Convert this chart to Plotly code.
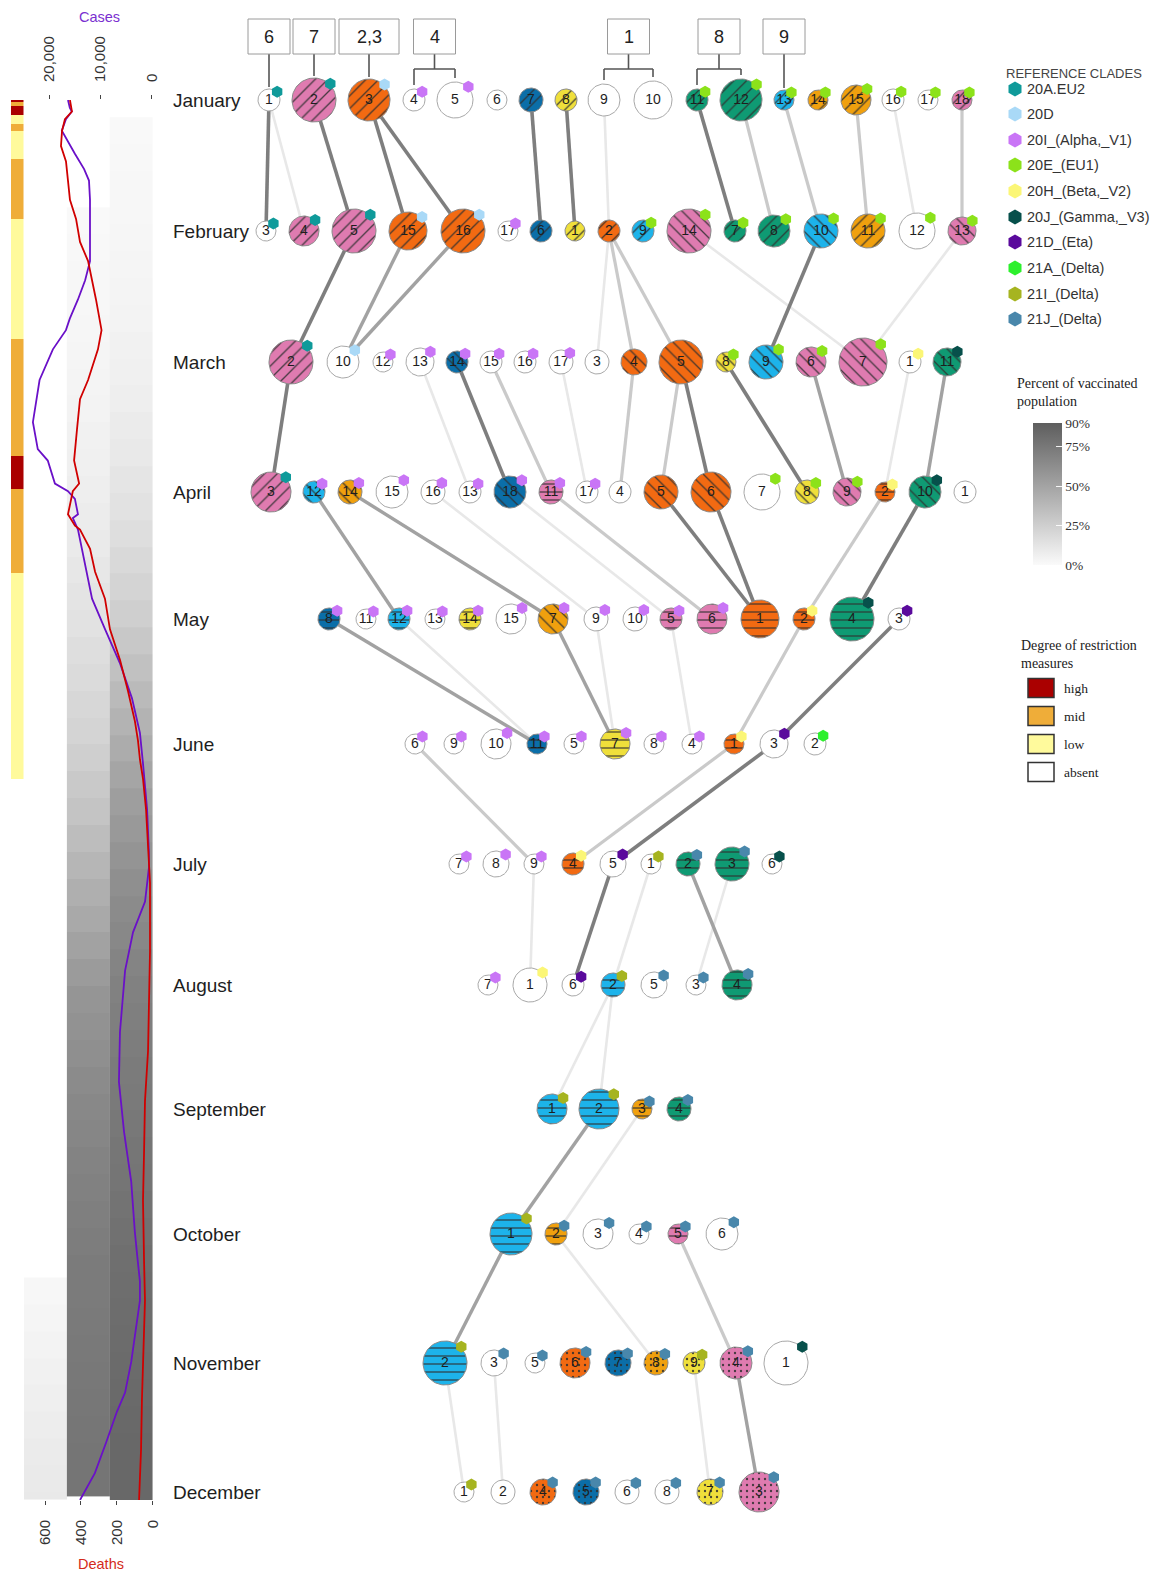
import numpy as np
import plotly.graph_objects as go

FIG_W, FIG_H = 1157, 1574
SANS = "Liberation Sans, Arial, sans-serif"
SERIF = "Liberation Serif, Times New Roman, serif"

# ---------------------------------------------------------------- data
MONTHS = ["January", "February", "March", "April", "May", "June", "July",
          "August", "September", "October", "November", "December"]

CLADE_NAMES = {
    "EU2": "20A.EU2", "20D": "20D", "ALP": "20I_(Alpha,_V1)", "EU1": "20E_(EU1)",
    "BET": "20H_(Beta,_V2)", "GAM": "20J_(Gamma,_V3)", "ETA": "21D_(Eta)",
    "A21": "21A_(Delta)", "I21": "21I_(Delta)", "J21": "21J_(Delta)",
}

# cluster identifiers of each month (left to right)
CLUSTERS = [
    ["1", "2", "3", "4", "5", "6", "7", "8", "9", "10", "11", "12", "13", "14", "15", "16", "17", "18"],
    ["3", "4", "5", "15", "16", "17", "6", "1", "2", "9", "14", "7", "8", "10", "11", "12", "13"],
    ["2", "10", "12", "13", "14", "15", "16", "17", "3", "4", "5", "8", "9", "6", "7", "1", "11"],
    ["3", "12", "14", "15", "16", "13", "18", "11", "17", "4", "5", "6", "7", "8", "9", "2", "10", "1"],
    ["8", "11", "12", "13", "14", "15", "7", "9", "10", "5", "6", "1", "2", "4", "3"],
    ["6", "9", "10", "11", "5", "7", "8", "4", "1", "3", "2"],
    ["7", "8", "9", "4", "5", "1", "2", "3", "6"],
    ["7", "1", "6", "2", "5", "3", "4"],
    ["1", "2", "3", "4"],
    ["1", "2", "3", "4", "5", "6"],
    ["2", "3", "5", "6", "7", "8", "9", "4", "1"],
    ["1", "2", "4", "5", "6", "8", "7", "3"],
]

# nearest reference clade of each cluster (None = no reference clade)
CLADES = [
    ["EU2", "EU2", "20D", "ALP", "ALP", None, None, None, None, None,
     "EU1", "EU1", "EU1", "EU1", "EU1", "EU1", "EU1", "EU1"],
    ["EU2", "EU2", "EU2", "20D", "20D", "ALP", None, None, None,
     "EU1", "EU1", "EU1", "EU1", "EU1", "EU1", "EU1", "EU1"],
    ["EU2", "20D", "ALP", "ALP", "ALP", "ALP", "ALP", "ALP", None, None, None,
     "EU1", "EU1", "EU1", "EU1", "BET", "GAM"],
    ["EU2", "ALP", "ALP", "ALP", "ALP", "ALP", "ALP", "ALP", "ALP", None, None, None,
     "EU1", "EU1", "EU1", "BET", "GAM", None],
    ["ALP", "ALP", "ALP", "ALP", "ALP", "ALP", "ALP", "ALP", "ALP", "ALP", "ALP",
     None, "BET", "GAM", "ETA"],
    ["ALP", "ALP", "ALP", "ALP", "ALP", "ALP", "ALP", "ALP", "BET", "ETA", "A21"],
    ["ALP", "ALP", "ALP", "BET", "ETA", "I21", "J21", "J21", "GAM"],
    ["ALP", "BET", "ETA", "I21", "J21", "J21", "J21"],
    ["I21", "I21", "J21", "J21"],
    ["I21", "J21", "J21", "J21", "J21", "J21"],
    ["I21", "J21", "J21", "J21", "J21", "J21", "I21", "J21", "GAM"],
    ["I21", None, "J21", "J21", "J21", "J21", "J21", "J21"],
]

# month-to-month links: (month index, source cluster, target cluster, strength 1..4)
LINKS = [
    (0, "1", "3", 4), (0, "1", "4", 1), (0, "2", "5", 4), (0, "3", "15", 4), (0, "3", "16", 4),
    (0, "7", "6", 4), (0, "8", "1", 4), (0, "9", "2", 1), (0, "11", "7", 4), (0, "12", "8", 2),
    (0, "13", "10", 2), (0, "15", "11", 2), (0, "16", "12", 1), (0, "18", "13", 2),
    (1, "5", "2", 4), (1, "15", "10", 3), (1, "16", "10", 3), (1, "2", "3", 1), (1, "2", "4", 2),
    (1, "2", "5", 2), (1, "14", "7", 1), (1, "10", "9", 4), (1, "13", "7", 1),
    (2, "2", "3", 4), (2, "13", "13", 1), (2, "14", "18", 4), (2, "15", "11", 2), (2, "17", "17", 1),
    (2, "4", "4", 2), (2, "5", "5", 2), (2, "5", "6", 4), (2, "8", "8", 4), (2, "6", "9", 3),
    (2, "1", "2", 1), (2, "11", "10", 3),
    (3, "12", "12", 3), (3, "14", "7", 3), (3, "18", "5", 1), (3, "11", "6", 2), (3, "16", "9", 1),
    (3, "5", "1", 4), (3, "6", "1", 4), (3, "2", "2", 2), (3, "10", "4", 4),
    (4, "8", "11", 3), (4, "12", "11", 1), (4, "7", "7", 3), (4, "9", "7", 1), (4, "5", "4", 1),
    (4, "2", "1", 2), (4, "3", "3", 4),
    (5, "6", "9", 2), (5, "1", "4", 2), (5, "3", "5", 4),
    (6, "9", "1", 1), (6, "5", "6", 4), (6, "1", "2", 1), (6, "3", "3", 1), (6, "2", "4", 3),
    (7, "2", "1", 1), (7, "2", "2", 1),
    (8, "2", "1", 3), (8, "3", "2", 1),
    (9, "1", "2", 3), (9, "2", "8", 1), (9, "5", "4", 2),
    (10, "2", "1", 1), (10, "3", "2", 1), (10, "9", "7", 1), (10, "4", "3", 3),
]

# reference groups linked to the January clusters
GROUPS = [("6", ["1"]), ("7", ["2"]), ("2,3", ["3"]), ("4", ["4", "5"]),
          ("1", ["9", "10"]), ("8", ["11", "12"]), ("9", ["13"])]

# daily new cases (7-day mean) by day of year
CASE_DAY = [0, 2, 3, 5, 8, 10, 14, 18, 21, 26, 34, 42, 47, 52, 57, 60, 65, 73, 84, 91,
            94, 100, 102, 104, 108, 109, 112, 121, 130, 138, 147, 156, 165, 173, 185, 196,
            200, 209, 217, 227, 243, 256, 269, 282, 295, 303, 308, 313, 321, 329, 337, 342,
            350, 358, 365]
CASES = [16350, 16000, 15600, 16750, 17550, 16750, 15000, 13200, 12250, 12050, 12050, 12050,
         13000, 14400, 16000, 16750, 19300, 21900, 23200, 22250, 20300, 18900, 16350, 15000,
         14400, 15400, 14400, 13000, 11650, 9100, 6150, 3850, 2300, 1700, 900, 550,
         530, 1300, 3650, 5200, 6200, 6400, 5400, 4000, 3300, 2700, 2300, 2300, 3100, 4000,
         5200, 6800, 8900, 11100, 14000]

# daily deaths (7-day mean) by day of year
DEATH_DAY = [0, 3, 5, 8, 12, 16, 21, 26, 31, 37, 42, 47, 52, 60, 65, 73, 78, 86, 94, 100,
             102, 108, 111, 112, 117, 123, 130, 138, 146, 154, 162, 167, 172, 177, 185, 204,
             222, 248, 261, 274, 287, 303, 313, 339, 352, 365]
DEATHS = [461, 450, 489, 505, 511, 483, 472, 461, 427, 405, 360, 338, 316, 285, 305, 360, 405,
          422, 438, 410, 445, 472, 433, 405, 349, 321, 266, 238, 182, 138, 99, 82, 71, 54, 37,
          15, 15, 26, 43, 48, 54, 48, 43, 60, 65, 76]

# weekly share of vaccinated population (%)
VAX_FIRST_START = 4.5
VAX_FIRST = [0.5, 1, 1.5, 2, 2.5, 3, 3.5, 4, 5, 6, 7, 8.5, 10, 12, 14, 16, 19, 22, 25, 29,
             33, 37, 41, 45, 49, 53, 56, 59, 62, 64, 66, 68, 70, 71, 72, 73, 74, 75, 76, 77,
             78, 79, 80, 81, 81.5, 82, 82.5, 83, 83.5, 84, 84, 84.5]
VAX_FULL_START = 28
VAX_FULL = [0.5, 1, 1.5, 2, 2.5, 3, 3.5, 4, 5, 6, 7, 8, 9.5, 11, 12.5, 14, 16, 18, 20, 22,
            25, 28, 31, 35, 39, 43, 47, 51, 55, 58, 60, 62, 64, 65.5, 67, 68.5, 70, 71, 72,
            73, 73.5, 74, 74.5, 75, 75.5, 76, 76.5, 77]
VAX_BOOST_START = 307
VAX_BOOST = [2, 3, 4, 5, 6.5, 7.5, 8.5, 9.5, 10]

# restriction periods (day-of-year edges) and level (1 low, 2 mid, 3 high)
RESTRICT_EDGES = [0, 0.5, 1.6, 3.9, 6.3, 8.1, 15.4, 31.1, 62.4, 92.7, 101.3, 123.2, 177]
RESTRICT_LEVEL = [3, 2, 3, 1, 2, 1, 2, 1, 2, 3, 2, 1]

# ---------------------------------------------------------------- styling / layout
ROW_Y = [100, 231, 362, 492, 619, 744, 864, 985, 1109, 1234, 1363, 1492]

# per cluster: (x centre, radius, fill key, hatch)
NODE_LAYOUT = [
    [(269, 11, "w", ""), (314, 22, "pk", "/"), (369, 21, "vm", "/"), (414, 11, "w", ""),
     (455, 18, "w", ""), (497, 10, "w", ""), (531, 12, "bl", "/"), (566, 11, "ye", "/"),
     (604, 16, "w", ""), (653, 19, "w", ""), (697, 11, "gr", "/"), (741, 21, "gr", "/"),
     (784, 10, "sk", "/"), (818, 10, "or", "/"), (856, 15, "or", "/"), (893, 11, "w", ""),
     (928, 10, "w", ""), (962, 10, "pk", "/")],
    [(266, 10, "w", ""), (304, 15, "pk", "/"), (354, 22, "pk", "/"), (408, 19, "vm", "/"),
     (463, 22, "vm", "/"), (508, 10, "w", ""), (541, 11, "bl", "/"), (575, 10, "ye", "/"),
     (609, 11, "vm", "/"), (643, 11, "sk", "/"), (689, 22, "pk", "\\"), (735, 11, "gr", "/"),
     (774, 16, "gr", "/"), (821, 17, "sk", "\\"), (868, 17, "or", "/"), (917, 18, "w", ""),
     (962, 14, "pk", "\\")],
    [(291, 22, "pk", "/"), (343, 16, "w", ""), (383, 10, "w", ""), (420, 14, "w", ""),
     (457, 11, "bl", "\\"), (491, 11, "w", ""), (525, 11, "w", ""), (561, 12, "w", ""),
     (597, 12, "w", ""), (634, 13, "vm", "\\"), (681, 22, "vm", "\\"), (726, 10, "ye", "\\"),
     (766, 17, "sk", "\\"), (811, 15, "pk", "\\"), (863, 24, "pk", "\\"), (910, 11, "w", ""),
     (947, 14, "gr", "\\")],
    [(271, 20, "pk", "/"), (314, 11, "sk", "\\"), (350, 12, "or", "\\"), (392, 16, "w", ""),
     (433, 12, "w", ""), (470, 11, "w", ""), (510, 16, "bl", "\\"), (551, 12, "pk", "-"),
     (587, 11, "w", ""), (620, 11, "w", ""), (661, 17, "vm", "\\"), (711, 20, "vm", "\\"),
     (762, 18, "w", ""), (807, 12, "ye", "\\"), (847, 14, "pk", "\\"), (885, 10, "vm", "-"),
     (925, 16, "gr", "\\"), (965, 11, "w", "")],
    [(329, 11, "bl", "-"), (366, 10, "w", ""), (399, 11, "sk", "-"), (435, 10, "w", ""),
     (470, 11, "ye", "-"), (511, 15, "w", ""), (553, 15, "or", "\\"), (596, 12, "w", ""),
     (635, 12, "w", ""), (671, 11, "pk", "-"), (712, 15, "pk", "-"), (760, 19, "vm", "-"),
     (804, 11, "vm", "-"), (852, 22, "gr", "-"), (899, 11, "w", "")],
    [(415, 10, "w", ""), (454, 10, "w", ""), (496, 15, "w", ""), (537, 10, "bl", "-"),
     (574, 10, "w", ""), (615, 15, "ye", "-"), (654, 10, "w", ""), (692, 10, "w", ""),
     (734, 10, "vm", "-"), (774, 14, "w", ""), (815, 11, "w", "")],
    [(459, 10, "w", ""), (496, 13, "w", ""), (534, 10, "w", ""), (573, 11, "vm", "-"),
     (613, 13, "w", ""), (651, 10, "w", ""), (688, 12, "gr", "-"), (732, 17, "gr", "-"),
     (772, 10, "w", "")],
    [(488, 10, "w", ""), (530, 17, "w", ""), (573, 11, "w", ""), (613, 12, "sk", "-"),
     (654, 13, "w", ""), (696, 10, "w", ""), (737, 15, "gr", "-")],
    [(552, 15, "sk", "-"), (599, 20, "sk", "-"), (642, 10, "or", "-"), (679, 12, "gr", "-")],
    [(511, 21, "sk", "-"), (556, 11, "or", "-"), (598, 15, "w", ""), (639, 10, "w", ""),
     (678, 10, "pk", "-"), (722, 16, "w", "")],
    [(445, 22, "sk", "-"), (494, 13, "w", ""), (535, 10, "w", ""), (575, 15, "vm", "."),
     (618, 13, "bl", "."), (656, 12, "or", "."), (694, 11, "ye", "."), (736, 16, "pk", "."),
     (786, 22, "w", "")],
    [(464, 10, "w", ""), (503, 12, "w", ""), (543, 13, "vm", "."), (586, 13, "bl", "."),
     (627, 12, "w", ""), (667, 12, "w", ""), (710, 13, "ye", "."), (759, 20, "pk", ".")],
]

FILL = {"w": "#ffffff", "pk": "#df7bb0", "vm": "#f26a12", "or": "#f0a00e", "sk": "#1db3ea",
        "gr": "#0f9a73", "bl": "#0b6ea8", "ye": "#efdf3b"}
CLADE_COLORS = {"EU2": "#0f9a9a", "20D": "#a9d9f7", "ALP": "#c975f6", "EU1": "#8ce21a",
                "BET": "#fbf676", "GAM": "#07504b", "ETA": "#5a0a9c", "A21": "#2df02d",
                "I21": "#a6b420", "J21": "#4987ab"}
LINK_STYLE = {1: ("#e8e8e8", 2.6), 2: ("#cacaca", 3.2), 3: ("#a2a2a2", 3.4), 4: ("#7e7e7e", 3.6)}
PATTERN = {"/": (9, 0.15), "\\": (9, 0.15), "-": (8, 0.16), ".": (6, 0.12)}
RESTRICT_COLORS = {1: "#fffa9c", 2: "#efad39", 3: "#aa0000"}

fig = go.Figure()

# position lookup for every cluster
pos = {}
for m, (labels, spec) in enumerate(zip(CLUSTERS, NODE_LAYOUT)):
    for lab, (x, r, fill, pat) in zip(labels, spec):
        pos[(m, lab)] = (x, ROW_Y[m], r)

# ---- links between consecutive months
for lvl in (1, 2, 3, 4):
    col, w = LINK_STYLE[lvl]
    xs, ys = [], []
    for m, a, b, s in LINKS:
        if s != lvl:
            continue
        x0, y0, _ = pos[(m, a)]
        x1, y1, _ = pos[(m + 1, b)]
        xs += [x0, x1, None]
        ys += [y0, y1, None]
    fig.add_trace(go.Scatter(x=xs, y=ys, mode="lines", line=dict(color=col, width=w),
                             hoverinfo="skip", showlegend=False))

# ---- reference group boxes and brackets
shapes = []
annotations = []
bx, by = [], []
BOX_TOP, BOX_BOT, BAR_Y = 19, 54, 69
for text, members in GROUPS:
    mx = [pos[(0, l)][0] for l in members]
    cx = float(np.mean(mx))
    half = 21 if len(text) == 1 else 30
    shapes.append(dict(type="rect", xref="x", yref="y", x0=cx - half, x1=cx + half,
                       y0=BOX_TOP, y1=BOX_BOT, line=dict(color="#9a9a9a", width=1),
                       fillcolor="white"))
    annotations.append(dict(x=cx, y=(BOX_TOP + BOX_BOT) / 2, xref="x", yref="y", text=text,
                            showarrow=False, font=dict(family=SANS, size=18, color="#222")))
    if len(members) == 1:
        x, y, r = pos[(0, members[0])]
        bx += [cx, cx, None]
        by += [BOX_BOT, y - r - 2, None]
    else:
        bx += [cx, cx, None, min(mx), max(mx), None]
        by += [BOX_BOT, BAR_Y, None, BAR_Y, BAR_Y, None]
        for l in members:
            x, y, r = pos[(0, l)]
            bx += [x, x, None]
            by += [BAR_Y, y - r - 4, None]
fig.add_trace(go.Scatter(x=bx, y=by, mode="lines", line=dict(color="#555", width=1.6),
                         hoverinfo="skip", showlegend=False))

# ---- cluster circles
theta = np.linspace(0, 2 * np.pi, 73)
lx, ly, lt = [], [], []
for m, (labels, spec) in enumerate(zip(CLUSTERS, NODE_LAYOUT)):
    y = ROW_Y[m]
    for lab, (x, r, fill, pat) in zip(labels, spec):
        col = FILL[fill]
        kw = {}
        if pat:
            size, sol = PATTERN[pat]
            kw["fillpattern"] = dict(shape=pat, fgcolor="#2f2f2f", bgcolor=col,
                                     size=size, solidity=sol, fgopacity=0.85)
        edge = "#a8a8a8" if fill == "w" else "#8a8a8a"
        fig.add_trace(go.Scatter(x=x + r * np.cos(theta), y=y + r * np.sin(theta),
                                 mode="lines", fill="toself", fillcolor=col,
                                 line=dict(color=edge, width=1), hoverinfo="skip",
                                 showlegend=False, **kw))
        lx.append(x)
        ly.append(y)
        lt.append(lab)

fig.add_trace(go.Scatter(x=lx, y=ly, text=lt, mode="text", textposition="middle center",
                         textfont=dict(family=SANS, size=14, color="#1e1e1e"),
                         hoverinfo="skip", showlegend=False))

# ---- clade markers on the clusters
for key in CLADE_NAMES:
    hx, hy = [], []
    for m, (labels, clades) in enumerate(zip(CLUSTERS, CLADES)):
        for lab, c in zip(labels, clades):
            if c == key:
                x, y, r = pos[(m, lab)]
                hx.append(x + 0.74 * r)
                hy.append(y - 0.74 * r)
    fig.add_trace(go.Scatter(x=hx, y=hy, mode="markers",
                             marker=dict(symbol="hexagon", size=12, color=CLADE_COLORS[key],
                                         line=dict(width=0)),
                             hoverinfo="skip", showlegend=False))

# ---- month labels
for m, name in enumerate(MONTHS):
    annotations.append(dict(x=171, y=ROW_Y[m], xref="x", yref="y", text=name, showarrow=False,
                            xanchor="left", font=dict(family=SANS, size=19, color="#1e1e1e")))

# ---- clade legend
LEG_Y = [89, 114, 140, 165, 191, 217, 242, 268, 294, 319]
annotations.append(dict(x=1004, y=73, xref="x", yref="y", text="REFERENCE CLADES",
                        showarrow=False, xanchor="left",
                        font=dict(family=SANS, size=13, color="#444")))
fig.add_trace(go.Scatter(x=[1015] * len(CLADE_NAMES), y=LEG_Y, mode="markers",
                         marker=dict(symbol="hexagon", size=15,
                                     color=[CLADE_COLORS[k] for k in CLADE_NAMES],
                                     line=dict(width=0)),
                         hoverinfo="skip", showlegend=False))
for k, yy in zip(CLADE_NAMES, LEG_Y):
    annotations.append(dict(x=1025, y=yy, xref="x", yref="y", text=CLADE_NAMES[k],
                            showarrow=False, xanchor="left",
                            font=dict(family=SANS, size=14.5, color="#333")))

# ---- vaccination legend title
annotations.append(dict(x=1015, y=374, xref="x", yref="y",
                        text="Percent of vaccinated<br>population", showarrow=False,
                        xanchor="left", yanchor="top", align="left",
                        font=dict(family=SERIF, size=14, color="#222")))

# ---- restriction legend
annotations.append(dict(x=1019, y=636, xref="x", yref="y",
                        text="Degree of restriction<br>measures", showarrow=False,
                        xanchor="left", yanchor="top", align="left",
                        font=dict(family=SERIF, size=14, color="#222")))
for (lvl, lab), yy in zip([(3, "high"), (2, "mid"), (1, "low"), (0, "absent")],
                          [688, 716, 744, 772]):
    shapes.append(dict(type="rect", xref="x", yref="y", x0=1028, x1=1054, y0=yy - 9.5,
                       y1=yy + 9.5, line=dict(color="#333", width=1.5),
                       fillcolor=RESTRICT_COLORS.get(lvl, "#ffffff")))
    annotations.append(dict(x=1062, y=yy, xref="x", yref="y", text=lab, showarrow=False,
                            xanchor="left", font=dict(family=SERIF, size=13.5, color="#222")))

# ---------------------------------------------------------------- left panel
GRAY = [[0, "#fafafa"], [1, "#5e5e5e"]]


def weekly_edges(start, n):
    e = [start + 7 * k for k in range(n + 1)]
    return [min(v, 365) for v in e]


for col, (start, vals) in enumerate([(VAX_BOOST_START, VAX_BOOST),
                                     (VAX_FULL_START, VAX_FULL),
                                     (VAX_FIRST_START, VAX_FIRST)]):
    hm = dict(x=[col - 0.5, col + 0.5], y=weekly_edges(start, len(vals)),
              z=[[v] for v in vals], zmin=0, zmax=90, colorscale=GRAY,
              xaxis="x2", yaxis="y2", hoverinfo="skip", showscale=False)
    if col == 2:
        hm["showscale"] = True
        hm["colorbar"] = dict(x=1033 / FIG_W, xanchor="left", y=1 - 423 / FIG_H,
                              yanchor="top", len=142 / FIG_H, lenmode="fraction",
                              thickness=29, outlinewidth=0, xpad=0, ypad=0,
                              tickvals=[0, 25, 50, 75, 90],
                              ticktext=["0%", "25%", "50%", "75%", "90%"],
                              ticks="inside", ticklen=6, tickcolor="rgba(255,255,255,0.9)",
                              tickfont=dict(family=SERIF, size=13.5, color="#333"))
    fig.add_trace(go.Heatmap(**hm))

fig.add_trace(go.Heatmap(x=[-0.5, 0.5], y=RESTRICT_EDGES, z=[[v] for v in RESTRICT_LEVEL],
                         zmin=1, zmax=3,
                         colorscale=[[0, RESTRICT_COLORS[1]], [0.5, RESTRICT_COLORS[2]],
                                     [1, RESTRICT_COLORS[3]]],
                         showscale=False, xaxis="x5", yaxis="y2", hoverinfo="skip"))

fig.add_trace(go.Scatter(x=CASES, y=CASE_DAY, mode="lines", xaxis="x3", yaxis="y2",
                         line=dict(color="#6a10c8", width=1.8), hoverinfo="skip",
                         showlegend=False))
fig.add_trace(go.Scatter(x=DEATHS, y=DEATH_DAY, mode="lines", xaxis="x4", yaxis="y2",
                         line=dict(color="#d00000", width=1.8), hoverinfo="skip",
                         showlegend=False))

annotations.append(dict(x=99, y=17, xref="x", yref="y", text="Cases", showarrow=False,
                        font=dict(family=SANS, size=14.5, color="#7a2fd0")))
annotations.append(dict(x=101, y=1564, xref="x", yref="y", text="Deaths", showarrow=False,
                        font=dict(family=SANS, size=14.5, color="#d42a1a")))

PANEL = [24 / FIG_W, 152.7 / FIG_W]
DAYS_DOMAIN = [1 - 1500 / FIG_H, 1 - 100 / FIG_H]
tick_font = dict(family=SANS, size=15, color="#333")

fig.update_layout(
    width=FIG_W, height=FIG_H, autosize=False,
    margin=dict(l=0, r=0, t=0, b=0, pad=0, autoexpand=False),
    paper_bgcolor="white", plot_bgcolor="rgba(0,0,0,0)",
    showlegend=False,
    xaxis=dict(domain=[0, 1], range=[0, FIG_W], visible=False, fixedrange=True),
    yaxis=dict(domain=[0, 1], range=[FIG_H, 0], visible=False, fixedrange=True),
    xaxis2=dict(domain=PANEL, range=[-0.5, 2.5], anchor="y2", visible=False),
    yaxis2=dict(domain=DAYS_DOMAIN, range=[365, 0], anchor="x2", visible=False),
    xaxis3=dict(overlaying="x2", anchor="y2", side="top", range=[24941, -195],
                tickvals=[0, 10000, 20000], tickformat=",d", tickangle=-90,
                ticks="outside", ticklen=4, tickcolor="#444", tickwidth=1.2,
                ticklabelstandoff=10, tickfont=tick_font,
                showgrid=False, zeroline=False, showline=False),
    xaxis4=dict(overlaying="x2", anchor="y2", side="bottom", range=[717, 0],
                tickvals=[0, 200, 400, 600], tickangle=-90,
                ticks="outside", ticklen=4, tickcolor="#444", tickwidth=1.2,
                ticklabelstandoff=9, tickfont=tick_font,
                showgrid=False, zeroline=False, showline=False),
    xaxis5=dict(domain=[11 / FIG_W, 23.5 / FIG_W], range=[-0.5, 0.5], anchor="y2",
                visible=False),
    shapes=shapes,
    annotations=annotations,
)

fig.write_html("out.html")
